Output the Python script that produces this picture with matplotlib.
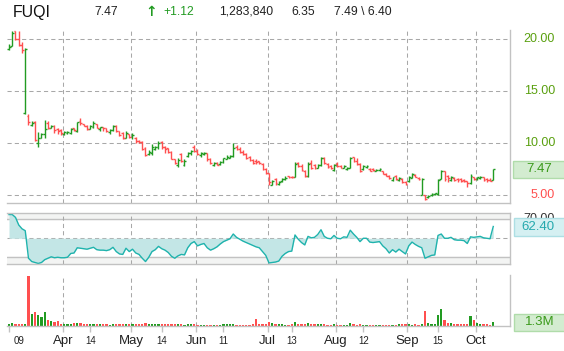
import matplotlib
matplotlib.use('Agg')
import matplotlib.pyplot as plt
import numpy as np
from matplotlib.patches import Rectangle
from matplotlib.transforms import IdentityTransform, Bbox

plt.rcParams['font.family'] = ['Liberation Sans', 'DejaVu Sans']

W, H = 564, 351

# daily bars, Mar 09 .. Oct 08
opens = np.array([
    19.0, 19.3, 20.7, 20.0, 19.4, 12.9, 12.6, 11.7, 11.95, 10.0,
    10.5, 10.8, 11.9, 11.45, 11.65, 11.3, 11.2, 10.85, 10.9, 10.95,
    11.4, 11.1, 12.05, 11.85, 11.6, 11.35, 11.55, 11.8, 11.35, 11.5,
    11.4, 11.0, 11.2, 11.6, 11.1, 10.9, 10.5, 10.8, 10.6, 10.5,
    10.2, 10.05, 9.5, 8.9, 9.0, 9.45, 9.6, 10.1, 9.6, 9.5,
    9.1, 8.4, 7.9, 8.9, 7.9, 8.7, 9.0, 9.6, 9.25, 8.8,
    8.95, 9.0, 8.4, 7.85, 8.1, 7.95, 8.2, 8.45, 8.55, 8.7,
    9.6, 9.4, 9.15, 8.9, 8.6, 8.35, 8.3, 8.25, 8.0, 7.45,
    7.1, 6.0, 6.5, 6.05, 6.3, 6.5, 6.8, 6.75, 6.75, 8.1,
    7.8, 7.3, 6.85, 8.1, 7.9, 7.6, 7.9, 8.5, 8.0, 7.75,
    7.4, 8.0, 7.8, 7.6, 7.5, 7.6, 8.6, 8.3, 8.0, 7.45,
    7.65, 7.5, 7.45, 7.3, 7.4, 7.25, 7.05, 6.85, 6.4, 6.85,
    6.4, 6.55, 6.2, 6.3, 6.65, 6.95, 6.65, 5.0, 4.95, 4.8,
    4.95, 5.05, 5.05, 6.55, 7.25, 6.85, 6.45, 6.65, 6.55, 6.5,
    6.45, 6.3, 6.1, 6.75, 6.5, 6.6, 6.7, 6.5, 6.45, 6.45])
highs = np.array([
    19.45, 20.75, 20.75, 20.7, 19.7, 19.1, 12.75, 12.05, 12.1, 11.0,
    10.9, 12.15, 12.05, 11.75, 11.7, 11.4, 11.3, 11.1, 11.1, 11.45,
    11.45, 12.0, 12.35, 11.85, 11.7, 11.7, 12.05, 11.85, 11.55, 11.5,
    11.4, 11.3, 11.75, 11.75, 11.1, 11.0, 11.1, 10.85, 10.95, 10.6,
    10.3, 10.15, 9.6, 9.3, 9.85, 9.65, 10.2, 10.2, 9.65, 9.5,
    9.2, 8.45, 8.5, 9.0, 8.4, 9.15, 9.3, 9.8, 9.45, 9.1,
    9.15, 9.0, 8.5, 8.2, 8.2, 8.3, 8.55, 8.85, 8.85, 9.95,
    9.75, 9.55, 9.3, 9.05, 8.7, 8.4, 8.4, 8.3, 8.05, 7.55,
    7.15, 6.4, 6.6, 6.3, 6.6, 6.8, 6.85, 6.8, 8.2, 8.2,
    8.0, 7.4, 8.15, 8.35, 8.0, 7.95, 8.65, 8.6, 8.1, 7.85,
    8.0, 8.2, 7.9, 7.9, 7.7, 8.65, 8.65, 8.5, 8.1, 7.85,
    7.85, 7.55, 7.55, 7.45, 7.55, 7.3, 7.1, 6.9, 6.75, 6.9,
    6.75, 6.6, 6.3, 6.84, 7.1, 7.0, 6.68, 6.6, 5.0, 4.95,
    5.15, 5.2, 6.52, 7.42, 7.33, 6.9, 6.78, 6.68, 6.6, 6.6,
    6.52, 6.36, 7.0, 6.75, 6.75, 6.84, 6.7, 6.6, 6.6, 7.49])
lows = np.array([
    18.9, 19.25, 19.9, 19.3, 18.6, 12.8, 11.7, 11.65, 10.2, 9.6,
    10.45, 10.5, 11.3, 11.4, 10.95, 10.85, 10.75, 10.75, 10.8, 10.85,
    11.1, 11.05, 11.7, 11.6, 11.2, 11.3, 11.45, 11.4, 11.15, 11.15,
    11.0, 10.85, 11.1, 11.0, 10.65, 10.4, 10.45, 10.5, 10.35, 10.0,
    10.0, 9.3, 8.75, 8.8, 8.85, 9.35, 9.4, 9.4, 9.05, 9.0,
    8.4, 7.95, 7.65, 8.2, 7.75, 8.65, 8.85, 9.1, 8.8, 8.6,
    8.85, 8.3, 8.0, 7.75, 7.85, 7.9, 8.1, 8.4, 8.5, 8.65,
    9.3, 9.05, 8.8, 8.45, 8.25, 8.0, 8.0, 7.95, 7.35, 7.0,
    5.95, 5.95, 6.0, 6.0, 6.25, 6.45, 6.6, 6.6, 6.7, 7.65,
    7.3, 6.7, 6.75, 7.5, 7.5, 7.55, 7.8, 7.95, 7.6, 7.45,
    7.3, 7.7, 7.55, 7.55, 7.4, 7.55, 8.2, 7.9, 7.2, 7.4,
    7.55, 7.25, 7.25, 7.25, 7.3, 7.0, 6.8, 6.5, 6.3, 6.4,
    6.3, 6.1, 5.95, 6.27, 6.6, 6.68, 6.46, 5.0, 4.5, 4.75,
    4.9, 5.0, 5.0, 6.5, 6.36, 6.2, 6.36, 6.36, 6.27, 6.2,
    6.27, 5.72, 6.04, 6.4, 6.46, 6.52, 6.36, 6.27, 6.3, 6.40])
closes = np.array([
    19.2, 20.5, 20.0, 19.4, 18.9, 19.0, 12.0, 11.9, 10.3, 10.45,
    10.8, 11.35, 11.4, 11.65, 11.2, 11.15, 10.9, 11.0, 11.0, 11.35,
    11.2, 11.95, 11.9, 11.65, 11.3, 11.6, 11.9, 11.45, 11.5, 11.4,
    11.1, 11.2, 11.6, 11.1, 10.75, 10.5, 10.95, 10.55, 10.75, 10.2,
    10.1, 9.45, 8.85, 9.1, 9.6, 9.55, 10.0, 9.6, 9.45, 9.1,
    8.45, 8.1, 8.35, 8.3, 8.3, 9.05, 9.2, 9.25, 8.9, 9.0,
    9.05, 8.4, 8.05, 8.1, 7.9, 8.2, 8.5, 8.6, 8.7, 9.5,
    9.4, 9.15, 8.9, 8.55, 8.35, 8.1, 8.2, 8.05, 7.45, 7.1,
    6.2, 6.3, 6.1, 6.25, 6.5, 6.65, 6.7, 6.7, 8.0, 7.8,
    7.35, 6.8, 8.0, 7.6, 7.6, 7.9, 8.5, 8.05, 7.7, 7.6,
    7.9, 7.75, 7.6, 7.8, 7.6, 8.5, 8.3, 8.0, 7.3, 7.8,
    7.8, 7.3, 7.35, 7.4, 7.5, 7.05, 6.85, 6.6, 6.7, 6.5,
    6.65, 6.2, 6.05, 6.75, 7.0, 6.75, 6.5, 6.55, 4.6, 4.9,
    5.1, 5.15, 6.45, 7.3, 6.5, 6.6, 6.7, 6.45, 6.4, 6.3,
    6.35, 6.1, 6.85, 6.5, 6.7, 6.75, 6.45, 6.4, 6.35, 7.47])
# volume in millions
volumes = np.array([
    0.78, 1.17, 0.65, 0.65, 0.65, 0.65, 19.3, 4.5, 5.2, 4.2,
    3.2, 5.2, 2.2, 1.8, 1.3, 1.8, 0.8, 0.65, 0.6, 0.6,
    1.0, 1.2, 0.9, 0.65, 0.6, 0.8, 0.75, 0.6, 0.55, 0.5,
    0.5, 0.45, 0.6, 0.7, 0.6, 0.55, 0.6, 0.5, 0.65, 0.6,
    0.7, 0.8, 0.9, 0.8, 0.75, 0.6, 0.7, 0.65, 0.55, 0.6,
    0.6, 0.5, 0.65, 0.6, 0.45, 0.5, 0.55, 0.7, 0.45, 0.4,
    0.35, 0.4, 0.35, 0.4, 0.45, 0.35, 0.6, 0.65, 0.5, 0.55,
    0.4, 0.35, 0.4, 0.4, 0.45, 0.5, 2.5, 0.5, 0.6, 0.7,
    1.5, 1.1, 0.8, 0.6, 0.5, 0.45, 0.4, 0.5, 1.4, 0.7,
    0.6, 0.65, 1.0, 0.55, 0.5, 0.5, 0.6, 0.55, 0.45, 0.4,
    0.5, 0.4, 0.45, 0.35, 0.4, 1.0, 0.5, 0.45, 0.5, 0.4,
    0.35, 0.35, 0.4, 0.3, 0.35, 0.4, 0.4, 0.45, 0.4, 0.35,
    0.5, 0.55, 0.6, 0.6, 0.45, 0.5, 0.4, 0.8, 5.8, 1.2,
    0.65, 0.6, 4.1, 6.5, 2.4, 1.0, 1.1, 0.7, 0.7, 0.75,
    0.75, 0.8, 3.8, 2.2, 1.1, 0.6, 0.55, 0.5, 0.45, 1.28])
rsi = np.array([
    75, 75, 72, 64, 60, 58, 29, 25.5, 24.5, 23.5,
    24.5, 27.5, 29, 30.5, 29.5, 30, 29.5, 29.5, 30, 34,
    34.5, 40, 39.5, 39, 38.5, 39.5, 40.5, 38, 37.5, 37.5,
    37, 38, 40.5, 36, 33.5, 33, 39.5, 36, 38.5, 34.5,
    33, 29, 25.5, 30, 36, 38, 41.5, 39, 37.5, 35,
    31, 29, 31.5, 33, 32.5, 40, 44.5, 46.5, 42, 43.5,
    44.5, 40, 37.5, 39, 41, 44, 46.5, 48, 49.5, 54.5,
    51, 49, 47, 45.5, 44, 42.5, 41, 40, 36, 32,
    24, 24.5, 25, 26, 31, 34, 36, 36.5, 53.5, 49,
    45.5, 43, 52, 50.5, 51, 54, 59, 52, 50, 49.5,
    53, 50, 49.5, 51.5, 51, 58.5, 54.5, 51, 46.5, 50,
    50, 46, 45.5, 46, 46.5, 42, 39, 34.5, 38, 35.5,
    38.5, 36, 33.5, 42, 46, 43.5, 41.5, 40, 29, 30.5,
    32, 32.5, 53, 54.5, 50, 50, 51, 48.5, 48, 48,
    47.5, 44.5, 51.5, 51, 51.5, 52, 50.5, 50, 49.5, 62.4])

month_start = [17, 38, 58, 80, 101, 123, 144]
month_names = ['Apr', 'May', 'Jun', 'Jul', 'Aug', 'Sep', 'Oct']
day_ticks = [0, 25, 47, 66, 87, 109, 132]
day_names = ['09', '14', '14', '11', '13', '12', '15']
price_levels = [5, 10, 15, 20]

GREEN = '#229b22'
RED = '#ff4f4f'
GRID = '#a8a8a8'
EDGE = '#c2c2c2'
DASH = (0, (4, 3))


def px_rect(x0, y0, x1, y1):
    return [x0 / W, 1 - y1 / H, (x1 - x0) / W, (y1 - y0) / H]


def plain(ax, top=False):
    for s in ['left', 'top']:
        ax.spines[s].set_visible(False)
    if top:
        ax.spines['top'].set_visible(True)
    for s in ['bottom', 'right', 'top']:
        ax.spines[s].set_color(EDGE)
        ax.spines[s].set_linewidth(1.0)
    ax.set_yticks([])
    ax.tick_params(axis='x', which='both', labelbottom=False, length=0)
    for m in month_start:
        ax.axvline(m - 0.4, color=GRID, lw=0.75, ls=DASH, zorder=0)


def value_box(ax, value, text, tc, fc, ec, x0, x1, h, tx):
    yc = ax.transData.transform((0, value))[1]
    fig.add_artist(Rectangle((x0, yc - h / 2), x1 - x0, h, transform=IdentityTransform(),
                             facecolor=fc, edgecolor=ec, lw=1.0, zorder=1))
    fig.text(tx / W, yc / H, text, color=tc, fontsize=9.5, ha='center', va='center', zorder=3)
    return yc + h / 2


fig = plt.figure(figsize=(W / 100, H / 100), dpi=100)
ax_p = fig.add_axes(px_rect(7.3, 30, 510, 203.3))
ax_r = fig.add_axes(px_rect(7.3, 213.3, 510, 264.3), sharex=ax_p)
ax_v = fig.add_axes(px_rect(7.3, 275, 510, 325.7), sharex=ax_p)

days = np.arange(len(closes))
colors = np.where(closes >= opens, GREEN, RED)

# price bars
ax_p.vlines(days, lows, highs, colors=colors, lw=1.0)
ax_p.hlines(opens, days - 0.6, days, colors=colors, lw=1.0)
ax_p.hlines(closes, days, days + 0.6, colors=colors, lw=1.0)
for lv in price_levels:
    ax_p.axhline(lv, color=GRID, lw=0.75, ls=DASH, zorder=0)
ax_p.set_xlim(-0.52, 154.15)
ax_p.set_ylim(4.2, 20.815)
plain(ax_p)
for lv in price_levels:
    ax_p.annotate(f'{lv:.2f}', xy=(1, lv), xycoords=('axes fraction', 'data'),
                  xytext=(45, 0), textcoords='offset pixels', ha='right', va='center',
                  fontsize=9, color='#5aa010' if lv > closes[-1] else RED,
                  annotation_clip=False)

# rsi panel
ax_r.axhspan(70, 90, color='#f3f4f3', zorder=0)
ax_r.axhspan(0, 30, color='#f3f4f3', zorder=0)
ax_r.axhline(70, color=EDGE, lw=1.0, zorder=0)
ax_r.axhline(30, color=EDGE, lw=1.0, zorder=0)
ax_r.axhline(50, color=GRID, lw=0.75, ls=DASH, zorder=0)
ax_r.fill_between(days, rsi, 50, color='#c3e6e6', lw=0, zorder=1)
ax_r.plot(days, rsi, color='#1fb3ad', lw=1.0, zorder=2)
ax_r.set_ylim(22.6, 76.3)
plain(ax_r, top=True)

# volume panel
ax_v.bar(days, volumes, width=0.7, color=colors, zorder=2)
ax_v.set_ylim(0, 19.7)
plain(ax_v)
ax_v.set_xticks([m - 0.4 for m in month_start])
ax_v.set_xticks(day_ticks, minor=True)
ax_v.tick_params(axis='x', which='both', length=4, color=EDGE, width=1.0)
for m, name in zip(month_start, month_names):
    ax_v.annotate(name, xy=(m - 0.4, 0), xycoords=('data', 'axes fraction'),
                  xytext=(0, -9), textcoords='offset pixels', ha='center', va='top',
                  fontsize=9.5, color='#222222', annotation_clip=False)
for i, (d, name) in enumerate(zip(day_ticks, day_names)):
    dx = 10 if i == 0 else 0
    ax_v.annotate(name, xy=(d, 0), xycoords=('data', 'axes fraction'),
                  xytext=(dx, -10), textcoords='offset pixels', ha='center', va='top',
                  fontsize=7, color='#222222', annotation_clip=False)

# right side value boxes
box_top = value_box(ax_r, rsi[-1], f'{rsi[-1]:.2f}', '#25a9ae', '#d5f0f2', '#addfe4',
                    514, 566, 18, 538)
yc70 = ax_r.transData.transform((0, 70))[1]
t70 = fig.text(555 / W, yc70 / H, '70.00', color='#333333', fontsize=9, ha='right',
               va='center', zorder=0.5)
t70.set_clip_box(Bbox([[500, box_top], [W, box_top + 12]]))
t70.set_clip_on(True)
value_box(ax_p, closes[-1], f'{closes[-1]:.2f}', '#3a9a1a', '#d3ecd0', '#b0dcaa',
          513, 566, 16.7, 539)
value_box(ax_v, volumes[-1], f'{volumes[-1]:.1f}M', '#3a9a1a', '#d3ecd0', '#b0dcaa',
          514, 566, 17, 540)

# header line
change = closes[-1] - closes[-2]
hdr = [(13, 'FUQI', '#111111', 11.4, 'normal'),
       (94, f'{closes[-1]:.2f}', '#222222', 8.7, 'normal'),
       (163, f'+{change:.2f}', GREEN, 8.7, 'normal'),
       (219, '1,283,840', '#222222', 8.7, 'normal'),
       (291, f'{closes[-2]:.2f}', '#222222', 8.7, 'normal'),
       (334, f'{highs[-1]:.2f} \\ {lows[-1]:.2f}', '#222222', 8.7, 'normal')]
for x, s, c, fs, fw in hdr:
    fig.text(x / W, 1 - 12 / H, s, color=c, fontsize=fs, fontweight=fw,
             ha='left', va='center')
fig.text(145 / W, 1 - 11.5 / H, '\u2191', color=GREEN, fontsize=10, fontweight='bold',
         family=['DejaVu Sans'], ha='left', va='center')

fig.savefig('out.png', dpi=100)
